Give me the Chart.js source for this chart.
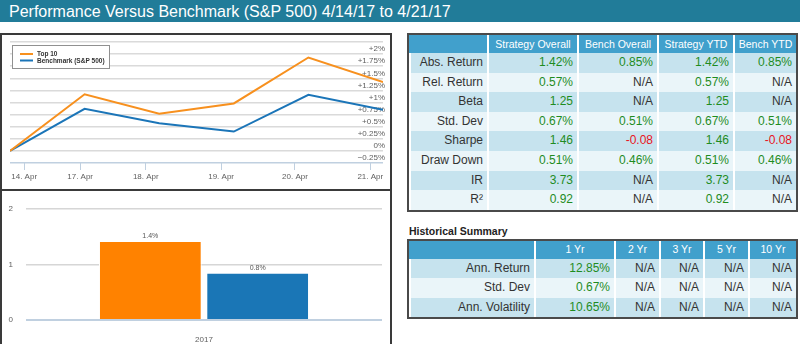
<!DOCTYPE html>
<html>
<head>
<meta charset="utf-8">
<script src="https://cdn.jsdelivr.net/npm/chart.js@4.4.0/dist/chart.umd.min.js"></script>
<style>
  body { margin: 0; width: 800px; height: 344px; overflow: hidden; background: #fff; font-family: "Liberation Sans", Arial, Helvetica, sans-serif; position: relative; }
  #titleBar { position: absolute; left: 0; top: 0; width: 800px; height: 22px; background: #217c99; color: #fff; font-size: 16px; line-height: 23px; padding-left: 9px; box-sizing: border-box; }
  .panel { position: absolute; left: 0; width: 392px; border: 2px solid #3a3a3a; box-sizing: border-box; }
  canvas { position: absolute; }
  .grid { position: absolute; display: grid; border: 2px solid #4a4a4a; background: #fff; }
  .grid div { box-sizing: border-box; text-align: right; padding-right: 4px; font-size: 12px; color: #333; white-space: nowrap; overflow: hidden; }
  .grid div + div { border-left: 2px solid #fff; }
  .grid .hd { background: #41a0cc; color: #fff; text-align: center; padding-right: 0; font-size: 10.5px; }
  .grid .odd { background: #c6e3ee; }
  .grid .even { background: #eaf5f9; }
  .grid .pos { color: #1f8c1f; }
  .grid .neg { color: #e8141c; }
  #histTitle { position: absolute; left: 409px; top: 225px; font-size: 10.5px; font-weight: bold; color: #222; }
</style>
</head>
<body>
<div id="titleBar">Performance Versus Benchmark (S&amp;P 500) 4/14/17 to 4/21/17</div>
<div class="panel" style="top:33px;height:158px;"></div>
<div class="panel" style="top:189px;height:170px;"></div>
<canvas id="lineChart" width="388" height="154" style="left:2px;top:35px;"></canvas>
<canvas id="barChart" width="388" height="153" style="left:2px;top:191px;"></canvas>
<div class="grid" id="statsTable" style="left:407px;top:33px;"></div>
<div id="histTitle">Historical Summary</div>
<div class="grid" id="histTable" style="left:407px;top:239px;"></div>
<script>
// ----------- Data -----------
const dayLabels = ["14. Apr", "17. Apr", "18. Apr", "19. Apr", "20. Apr", "21. Apr"];
const dayTickPos = [0.19, 0.94, 1.82, 2.83, 3.82, 4.83];
const top10Values = [0, 1.17, 0.77, 0.98, 1.93, 1.42];
const benchValues = [0, 0.87, 0.57, 0.40, 1.16, 0.85];

const yearLabels = ["2017"];
const ytdTop10 = [1.42];
const ytdBench = [0.85];

const statHeaders = ["", "Strategy Overall", "Bench Overall", "Strategy YTD", "Bench YTD"];
const statNames = ["Abs. Return", "Rel. Return", "Beta", "Std. Dev", "Sharpe", "Draw Down", "IR", "R²"];
const strategyOverall = ["1.42%", "0.57%", "1.25", "0.67%", "1.46", "0.51%", "3.73", "0.92"];
const benchOverall = ["0.85%", "N/A", "N/A", "0.51%", "-0.08", "0.46%", "N/A", "N/A"];
const strategyYtd = ["1.42%", "0.57%", "1.25", "0.67%", "1.46", "0.51%", "3.73", "0.92"];
const benchYtd = ["0.85%", "N/A", "N/A", "0.51%", "-0.08", "0.46%", "N/A", "N/A"];

const histHeaders = ["", "1 Yr", "2 Yr", "3 Yr", "5 Yr", "10 Yr"];
const histNames = ["Ann. Return", "Std. Dev", "Ann. Volatility"];
const hist1Yr = ["12.85%", "0.67%", "10.65%"];
const hist2Yr = ["N/A", "N/A", "N/A"];
const hist3Yr = ["N/A", "N/A", "N/A"];
const hist5Yr = ["N/A", "N/A", "N/A"];
const hist10Yr = ["N/A", "N/A", "N/A"];

const orange = "#f7901e";
const blue = "#1b75b8";

// ----------- Tables -----------
function buildGrid(el, headers, names, columns, widths, headH, rowH) {
  el.style.gridTemplateColumns = widths.map(w => w + "px").join(" ");
  el.style.gridTemplateRows = headH + "px " + names.map(() => rowH + "px").join(" ");
  headers.forEach(h => {
    const d = document.createElement("div");
    d.className = "hd";
    d.style.lineHeight = headH + "px";
    d.textContent = h;
    el.appendChild(d);
  });
  names.forEach((name, r) => {
    const cls = r % 2 === 0 ? "odd" : "even";
    const cells = [name].concat(columns.map(c => c[r]));
    cells.forEach((txt, c) => {
      const d = document.createElement("div");
      d.className = cls;
      if (c > 0 && txt !== "N/A") d.classList.add(txt.startsWith("-") ? "neg" : "pos");
      d.style.lineHeight = rowH + "px";
      d.textContent = txt;
      el.appendChild(d);
    });
  });
}
buildGrid(document.getElementById("statsTable"), statHeaders, statNames,
  [strategyOverall, benchOverall, strategyYtd, benchYtd], [78, 90, 80, 76, 63], 18, 19.6);
buildGrid(document.getElementById("histTable"), histHeaders, histNames,
  [hist1Yr, hist2Yr, hist3Yr, hist5Yr, hist10Yr], [125, 80, 45, 44, 45, 48], 17.5, 19.5);

// ----------- Line chart -----------
const fmtPct = v => {
  if (v === 0) return "0%";
  return (v > 0 ? "+" : "−") + Math.abs(v) + "%";
};

const legendBox = {
  id: "legendBox",
  afterDraw(chart) {
    const ctx = chart.ctx;
    ctx.save();
    ctx.fillStyle = "#fff";
    ctx.strokeStyle = "#909090";
    ctx.lineWidth = 1;
    ctx.fillRect(10.5, 10.5, 97, 23);
    ctx.strokeRect(10.5, 10.5, 97, 23);
    ctx.font = "bold 6.5px 'Liberation Sans', Arial";
    ctx.textBaseline = "middle";
    chart.data.datasets.forEach((ds, i) => {
      const y = 19 + i * 6.5;
      ctx.strokeStyle = ds.borderColor;
      ctx.lineWidth = 2;
      ctx.beginPath();
      ctx.moveTo(18, y);
      ctx.lineTo(31, y);
      ctx.stroke();
      ctx.fillStyle = "#333";
      ctx.fillText(ds.label, 35, y + 0.5);
    });
    ctx.restore();
  }
};

new Chart(document.getElementById("lineChart").getContext("2d"), {
  type: "line",
  data: {
    datasets: [
      { label: "Top 10", data: top10Values.map((v, i) => ({ x: i, y: v })), borderColor: orange },
      { label: "Benchmark (S&P 500)", data: benchValues.map((v, i) => ({ x: i, y: v })), borderColor: blue }
    ]
  },
  options: {
    responsive: false,
    animation: false,
    layout: { padding: { left: 8, right: 7, top: 7, bottom: 0 } },
    plugins: { legend: { display: false }, tooltip: { enabled: false } },
    elements: { point: { radius: 0 }, line: { tension: 0, borderWidth: 2 } },
    scales: {
      x: {
        type: "linear", min: 0, max: 5,
        afterBuildTicks: s => { s.ticks = dayTickPos.map(v => ({ value: v })); },
        afterFit: s => { s.height = 26; },
        grid: { drawOnChartArea: false, drawTicks: true, tickLength: 7, tickColor: "#c0d0e0" },
        border: { display: false },
        ticks: { callback: (v, i) => dayLabels[i], font: { size: 8 }, color: "#606060", padding: 2, maxRotation: 0, autoSkip: false }
      },
      y: {
        position: "right", min: -0.25, max: 2.25,
        afterFit: s => { s.width = 0; },
        grid: { color: c => c.index === 0 ? "#c0d0e0" : "#dadada", lineWidth: 1.5, drawTicks: false },
        border: { display: false },
        ticks: { stepSize: 0.25, autoSkip: false, mirror: true, padding: 2, labelOffset: -5, font: { size: 8 }, color: "#606060",
          callback: v => v > 2.1 ? "" : fmtPct(v) }
      }
    }
  },
  plugins: [legendBox]
});

// ----------- Bar chart -----------
const barLabels = {
  id: "barLabels",
  afterDatasetsDraw(chart) {
    const ctx = chart.ctx;
    ctx.save();
    ctx.font = "7px 'Liberation Sans', Arial";
    ctx.fillStyle = "#555";
    ctx.textAlign = "center";
    ctx.textBaseline = "bottom";
    chart.data.datasets.forEach((ds, i) => {
      chart.getDatasetMeta(i).data.forEach((bar, j) => {
        ctx.fillText(ds.data[j].toFixed(1) + "%", bar.x, bar.y - 1);
      });
    });
    ctx.restore();
  }
};

new Chart(document.getElementById("barChart").getContext("2d"), {
  type: "bar",
  data: {
    labels: yearLabels,
    datasets: [
      { label: "Top 10", data: ytdTop10, backgroundColor: "#ff8200", borderColor: "#fff", borderWidth: 1 },
      { label: "Benchmark (S&P 500)", data: ytdBench, backgroundColor: "#1a76b6", borderColor: "#fff", borderWidth: 1 }
    ]
  },
  options: {
    responsive: false,
    animation: false,
    layout: { padding: { left: 0, right: 8, top: 7, bottom: 0 } },
    plugins: { legend: { display: false }, tooltip: { enabled: false } },
    datasets: { bar: { categoryPercentage: 0.603, barPercentage: 0.957 } },
    scales: {
      x: {
        afterFit: s => { s.height = 24; },
        grid: { display: false },
        border: { display: false },
        ticks: { font: { size: 8 }, color: "#606060", padding: 7 }
      },
      y: {
        min: 0, max: 2,
        afterFit: s => { s.width = 24; },
        grid: { color: c => c.index === 0 ? "#c0d0e0" : "#d6d6d6", lineWidth: c => c.index === 0 ? 2 : 1.5, drawTicks: false },
        border: { display: false },
        ticks: { stepSize: 1, font: { size: 8 }, color: "#606060", padding: 13 }
      }
    }
  },
  plugins: [barLabels]
});
</script>
</body>
</html>
